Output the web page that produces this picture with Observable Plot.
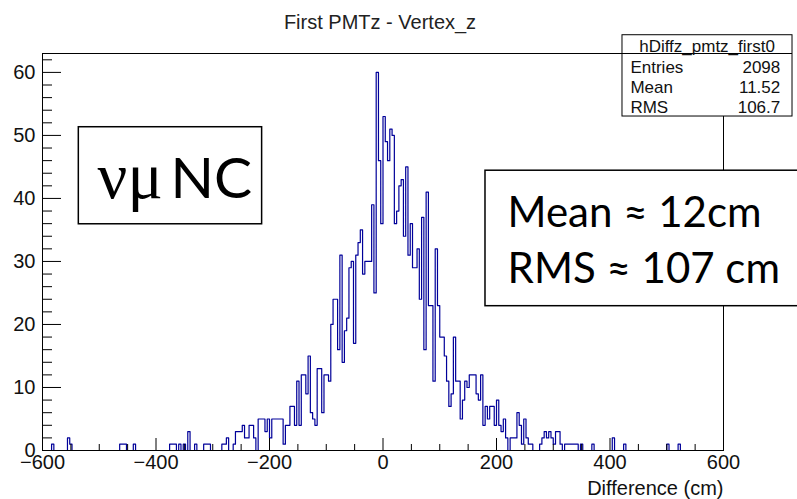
<!DOCTYPE html>
<html>
<head>
<meta charset="utf-8">
<script src="https://cdn.jsdelivr.net/npm/d3@7"></script>
<script src="https://cdn.jsdelivr.net/npm/@observablehq/plot@0.6"></script>
<style>
  html, body { margin: 0; padding: 0; background: #fff; }
  #chart { width: 797px; height: 499px; overflow: hidden; }
</style>
</head>
<body>
<div id="chart"></div>
<script>
// ---- data ----
const binStart = -600;       // cm, left edge of first bin
const binWidth = 4;          // cm
const counts = [
  0,0,0,0,1,0,0,0,0,0, 0,2,1,0,0,0,0,0,0,0,
  0,0,0,0,0,0,0,0,0,0, 0,0,0,0,1,1,1,0,0,0,
  1,0,0,0,0,0,0,0,0,0, 0,0,0,0,0,0,1,1,1,0,
  1,0,1,0,3,0,0,1,0,0, 0,1,1,1,0,0,0,0,0,1,
  1,2,0,0,1,3,3,3,4,2, 2,4,4,2,0,5,5,5,3,5,
  2,5,5,5,5,5,1,4,4,7, 7,4,11,4,12,12,9,15,6,5,
  4,13,13,6,12,12,11,20,24,24, 16,31,14,19,21,29,30,17,31,33,
  35,28,30,30,30,39,25,60,46,36, 53,49,46,51,50,36,38,42,43,34,
  45,31,36,29,29,32,24,37,16,41, 23,23,11,32,23,18,18,15,11,7,
  9,18,11,11,5,8,11,10,12,12, 12,9,8,12,4,7,5,7,7,4,
  8,4,3,5,2,0,2,2,2,6, 4,1,5,2,1,1,0,0,0,1,
  2,3,2,3,2,1,3,3,1,0, 1,1,1,1,1,1,0,1,0,0,
  0,0,1,0,0,0,0,0,0,0, 0,2,0,0,0,0,1,0,0,0,
  0,0,0,0,0,0,0,0,0,0, 0,0,0,0,0,1,0,0,0,0,
  1,0,0,0,0,0,0,0,0,0, 0,0,0,0,0,0,0,0,0,0
];
const xMajorTicks = [-600, -400, -200, 0, 200, 400, 600];
const xMinorTicks = [-550, -500, -450, -350, -300, -250, -150, -100, -50, 50, 100, 150, 250, 300, 350, 450, 500, 550];
const yMajorTicks = [0, 10, 20, 30, 40, 50, 60];
const yMinorTicks = [2, 4, 6, 8, 12, 14, 16, 18, 22, 24, 26, 28, 32, 34, 36, 38, 42, 44, 46, 48, 52, 54, 56, 58, 62];
const title = "First PMTz - Vertex_z";
const xTitle = "Difference (cm)";
const statName = "hDiffz_pmtz_first0";
const statLabels = ["Entries", "Mean", "RMS"];
const statValues = ["2098", "11.52", "106.7"];
const noteGreek = "νμ";
const noteNC = "NC";
const noteLines = ["Mean ≈ 12cm", "RMS ≈ 107 cm"];

// ---- build step outline table ----
const hist = counts.map((c, i) => ({x: binStart + i * binWidth, y: c}));
hist.push({x: binStart + counts.length * binWidth, y: counts[counts.length - 1]});

const sans = "'Liberation Sans', Arial, Helvetica, sans-serif";
const blank = () => "";

const svg = Plot.plot({
  width: 797,
  height: 499,
  marginLeft: 42,
  marginRight: 74,
  marginTop: 53,
  marginBottom: 49,
  style: {fontFamily: sans, fontSize: "20px", color: "#111", background: "#fff"},
  x: {domain: [-600, 600]},
  y: {domain: [0, 63]},
  marks: [
    Plot.lineY(hist, {x: "x", y: "y", curve: "step-after", stroke: "#000099", strokeWidth: 1.2}),
    Plot.frame({stroke: "#000", strokeWidth: 1}),
    // y axis: inward ticks + labels
    Plot.axisY({ticks: yMajorTicks, tickSize: -19, tickFormat: blank, label: null, stroke: "#000"}),
    Plot.axisY({ticks: yMinorTicks, tickSize: -10, tickFormat: blank, label: null, stroke: "#000"}),
    Plot.axisY({ticks: yMajorTicks, tickSize: 0, tickPadding: 7, label: null, fontSize: 20, fill: "#111"}),
    // x axis: inward ticks + labels
    Plot.axisX({ticks: xMajorTicks, tickSize: -12, tickFormat: blank, label: null, stroke: "#000"}),
    Plot.axisX({ticks: xMinorTicks, tickSize: -6, tickFormat: blank, label: null, stroke: "#000"}),
    Plot.axisX({ticks: xMajorTicks, tickSize: 0, tickPadding: 4, label: null, fontSize: 20, fill: "#111"}),
    // x title
    Plot.text([xTitle], {frameAnchor: "bottom-right", textAnchor: "end", lineAnchor: "bottom", dy: 44, fontSize: 20, fill: "#111", ariaLabel: "xtitle"}),
    // title
    Plot.text([title], {frameAnchor: "top", lineAnchor: "bottom", dx: -3, dy: -25, fontSize: 20, fill: "#222", ariaLabel: "title"}),
    // stats box
    Plot.rect([statName], {x1: 422, x2: 721.6, y1: 53.0, y2: 65.9, fill: "#fff", stroke: "#000", strokeWidth: 1}),
    Plot.ruleY([63], {x1: 422, x2: 721.6, stroke: "#000", strokeWidth: 1}),
    Plot.text([statName], {x: 571, y: 63.2, lineAnchor: "bottom", fontSize: 17, fill: "#111", ariaLabel: "statname"}),
    Plot.text(statLabels, {x: 436, y: (d, i) => 59.9 - 3.15 * i, textAnchor: "start", lineAnchor: "bottom", fontSize: 17, fill: "#111", ariaLabel: "statlab"}),
    Plot.text(statValues, {x: 700, y: (d, i) => 59.9 - 3.15 * i, textAnchor: "end", lineAnchor: "bottom", fontSize: 17, fill: "#111", ariaLabel: "statval"}),
    // νμ NC annotation
    Plot.rect([noteNC], {x1: -536, x2: -213, y1: 35.9, y2: 51.3, fill: "#fff", stroke: "#000", strokeWidth: 1.5}),
    Plot.text([noteGreek], {x: -503, y: 40.0, textAnchor: "start", lineAnchor: "bottom", fontSize: 66, fill: "#000", fontFamily: "'Liberation Serif', 'DejaVu Serif', serif", ariaLabel: "greek"}),
    Plot.text([noteNC], {x: -374.5, y: 40.0, textAnchor: "start", lineAnchor: "bottom", fontSize: 57, fill: "#000", fontFamily: "Lato, 'Open Sans', sans-serif", ariaLabel: "nc"}),
    // Mean / RMS annotation
    Plot.rect([noteLines[0]], {x1: 180.6, x2: 760, y1: 22.9, y2: 44.4, fill: "#fff", stroke: "#000", strokeWidth: 1.5}),
    Plot.text(noteLines, {x: 219.5, y: (d, i) => 35.5 - 8.9 * i, textAnchor: "start", lineAnchor: "bottom", fontSize: 42, fill: "#000", fontFamily: "Lato, 'Open Sans', sans-serif", ariaLabel: "notes"})
  ]
});

// match glyph run widths of the reference
const sel = d3.select(svg);
function fit(label, lengths) {
  sel.selectAll(`g[aria-label="${label}"] text`).each(function (d, i) {
    const L = Array.isArray(lengths) ? lengths[i] : lengths;
    if (L) d3.select(this).attr("textLength", L).attr("lengthAdjust", "spacingAndGlyphs");
  });
}
fit("title", 228);
fit("xtitle", 160);
fit("statname", 142);
fit("greek", 60);
fit("nc", 69);
fit("notes", [261, 273]);

document.getElementById("chart").append(svg);
</script>
</body>
</html>
